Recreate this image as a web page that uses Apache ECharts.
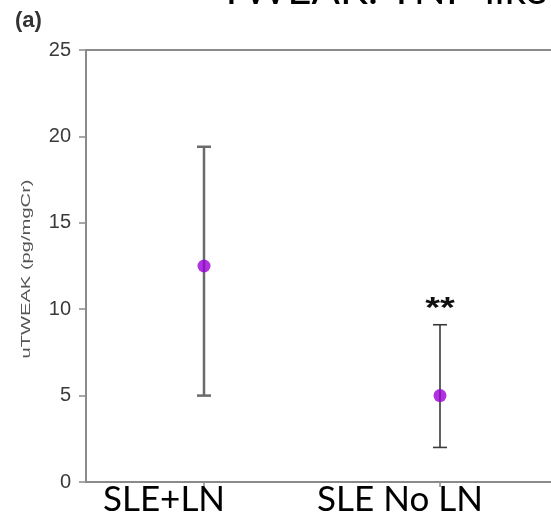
<!DOCTYPE html>
<html><head><meta charset="utf-8">
<script src="https://cdn.jsdelivr.net/npm/echarts@6/dist/echarts.min.js"></script>
<style>html,body{margin:0;padding:0;background:#fff}#c{width:551px;height:515px}</style>
</head><body><div id="c"></div>
<script>
const categories = ['SLE+LN', 'SLE No LN'];
const means = [12.5, 5.0];
const lower = [5.0, 2.0];
const upper = [19.4, 9.1];
const significance = ['', '**'];
const yMin = 0, yMax = 25, yStep = 5;
const yAxisTitle = 'uTWEAK (pg/mgCr)';
const chartTitle = 'TWEAK: TNF-like';
const panelLabel = '(a)';

const chart = echarts.init(document.getElementById('c'), null, {renderer: 'canvas'});
const errData = categories.map((c, i) => [i, lower[i], upper[i], significance[i]]);
const barStyles = [{stroke: '#6a6a6a', lineWidth: 2.5}, {stroke: '#3a3a3a', lineWidth: 1.6}];

chart.setOption({
  animation: false,
  backgroundColor: '#fff',
  grid: {left: 86, width: 472, top: 50, bottom: 33, containLabel: false, outerBoundsMode: 'none'},
  graphic: [
    {type: 'text', left: 219, top: -31, style: {text: chartTitle, font: '42px Lato', fill: '#000'}},
    {type: 'text', left: 15, top: 10, style: {text: panelLabel, font: 'bold 22px "Liberation Sans"', fill: '#333'}},
    {type: 'text', x: 26, y: 269, rotation: Math.PI / 2, scaleX: 1.55,
     style: {text: yAxisTitle, font: '13px "Liberation Sans"', fill: '#555', align: 'center', verticalAlign: 'middle'}}
  ],
  xAxis: [{
    type: 'category', data: categories, position: 'bottom',
    axisLine: {lineStyle: {color: '#8a8a8a', width: 2}},
    axisTick: {show: true, alignWithLabel: true, length: 5, lineStyle: {color: '#8a8a8a', width: 1.5}},
    axisLabel: {color: '#000', fontFamily: 'Lato', fontSize: 35, margin: 0, padding: [0, 80, 0, 0], interval: 0}
  }, {
    type: 'category', data: categories, position: 'top',
    axisLine: {lineStyle: {color: '#8a8a8a', width: 2}},
    axisTick: {show: false}, axisLabel: {show: false}
  }],
  yAxis: {
    type: 'value', min: yMin, max: yMax, interval: yStep,
    axisLine: {show: true, lineStyle: {color: '#8a8a8a', width: 2}},
    axisTick: {show: true, length: 7, lineStyle: {color: '#8a8a8a', width: 1.5}},
    axisLabel: {color: '#3a3a3a', fontSize: 20, fontFamily: 'Liberation Sans', margin: 15},
    splitLine: {show: false}
  },
  series: [{
    type: 'custom',
    data: errData,
    z: 2,
    renderItem: function (params, api) {
      const x = api.value(0);
      const lo = api.coord([x, api.value(1)]);
      const hi = api.coord([x, api.value(2)]);
      const sig = api.value(3);
      const st = barStyles[params.dataIndex];
      const hw = 7;
      const children = [
        {type: 'line', shape: {x1: lo[0], y1: lo[1], x2: hi[0], y2: hi[1]}, style: {stroke: st.stroke, lineWidth: st.lineWidth}},
        {type: 'line', shape: {x1: hi[0] - hw, y1: hi[1], x2: hi[0] + hw, y2: hi[1]}, style: {stroke: st.stroke, lineWidth: st.lineWidth}},
        {type: 'line', shape: {x1: lo[0] - hw, y1: lo[1], x2: lo[0] + hw, y2: lo[1]}, style: {stroke: st.stroke, lineWidth: st.lineWidth}}
      ];
      if (sig) {
        children.push({type: 'text', x: hi[0], y: hi[1] - 16, scaleY: 0.8,
          style: {text: sig, font: 'bold 38px "Liberation Sans"', fill: '#111', align: 'center', verticalAlign: 'middle'}});
      }
      return {type: 'group', children: children};
    }
  }, {
    type: 'scatter',
    data: means.map((m, i) => [i, m]),
    symbol: 'circle', symbolSize: 13, z: 3,
    itemStyle: {color: '#9a00d6'}
  }]
});
</script></body></html>
